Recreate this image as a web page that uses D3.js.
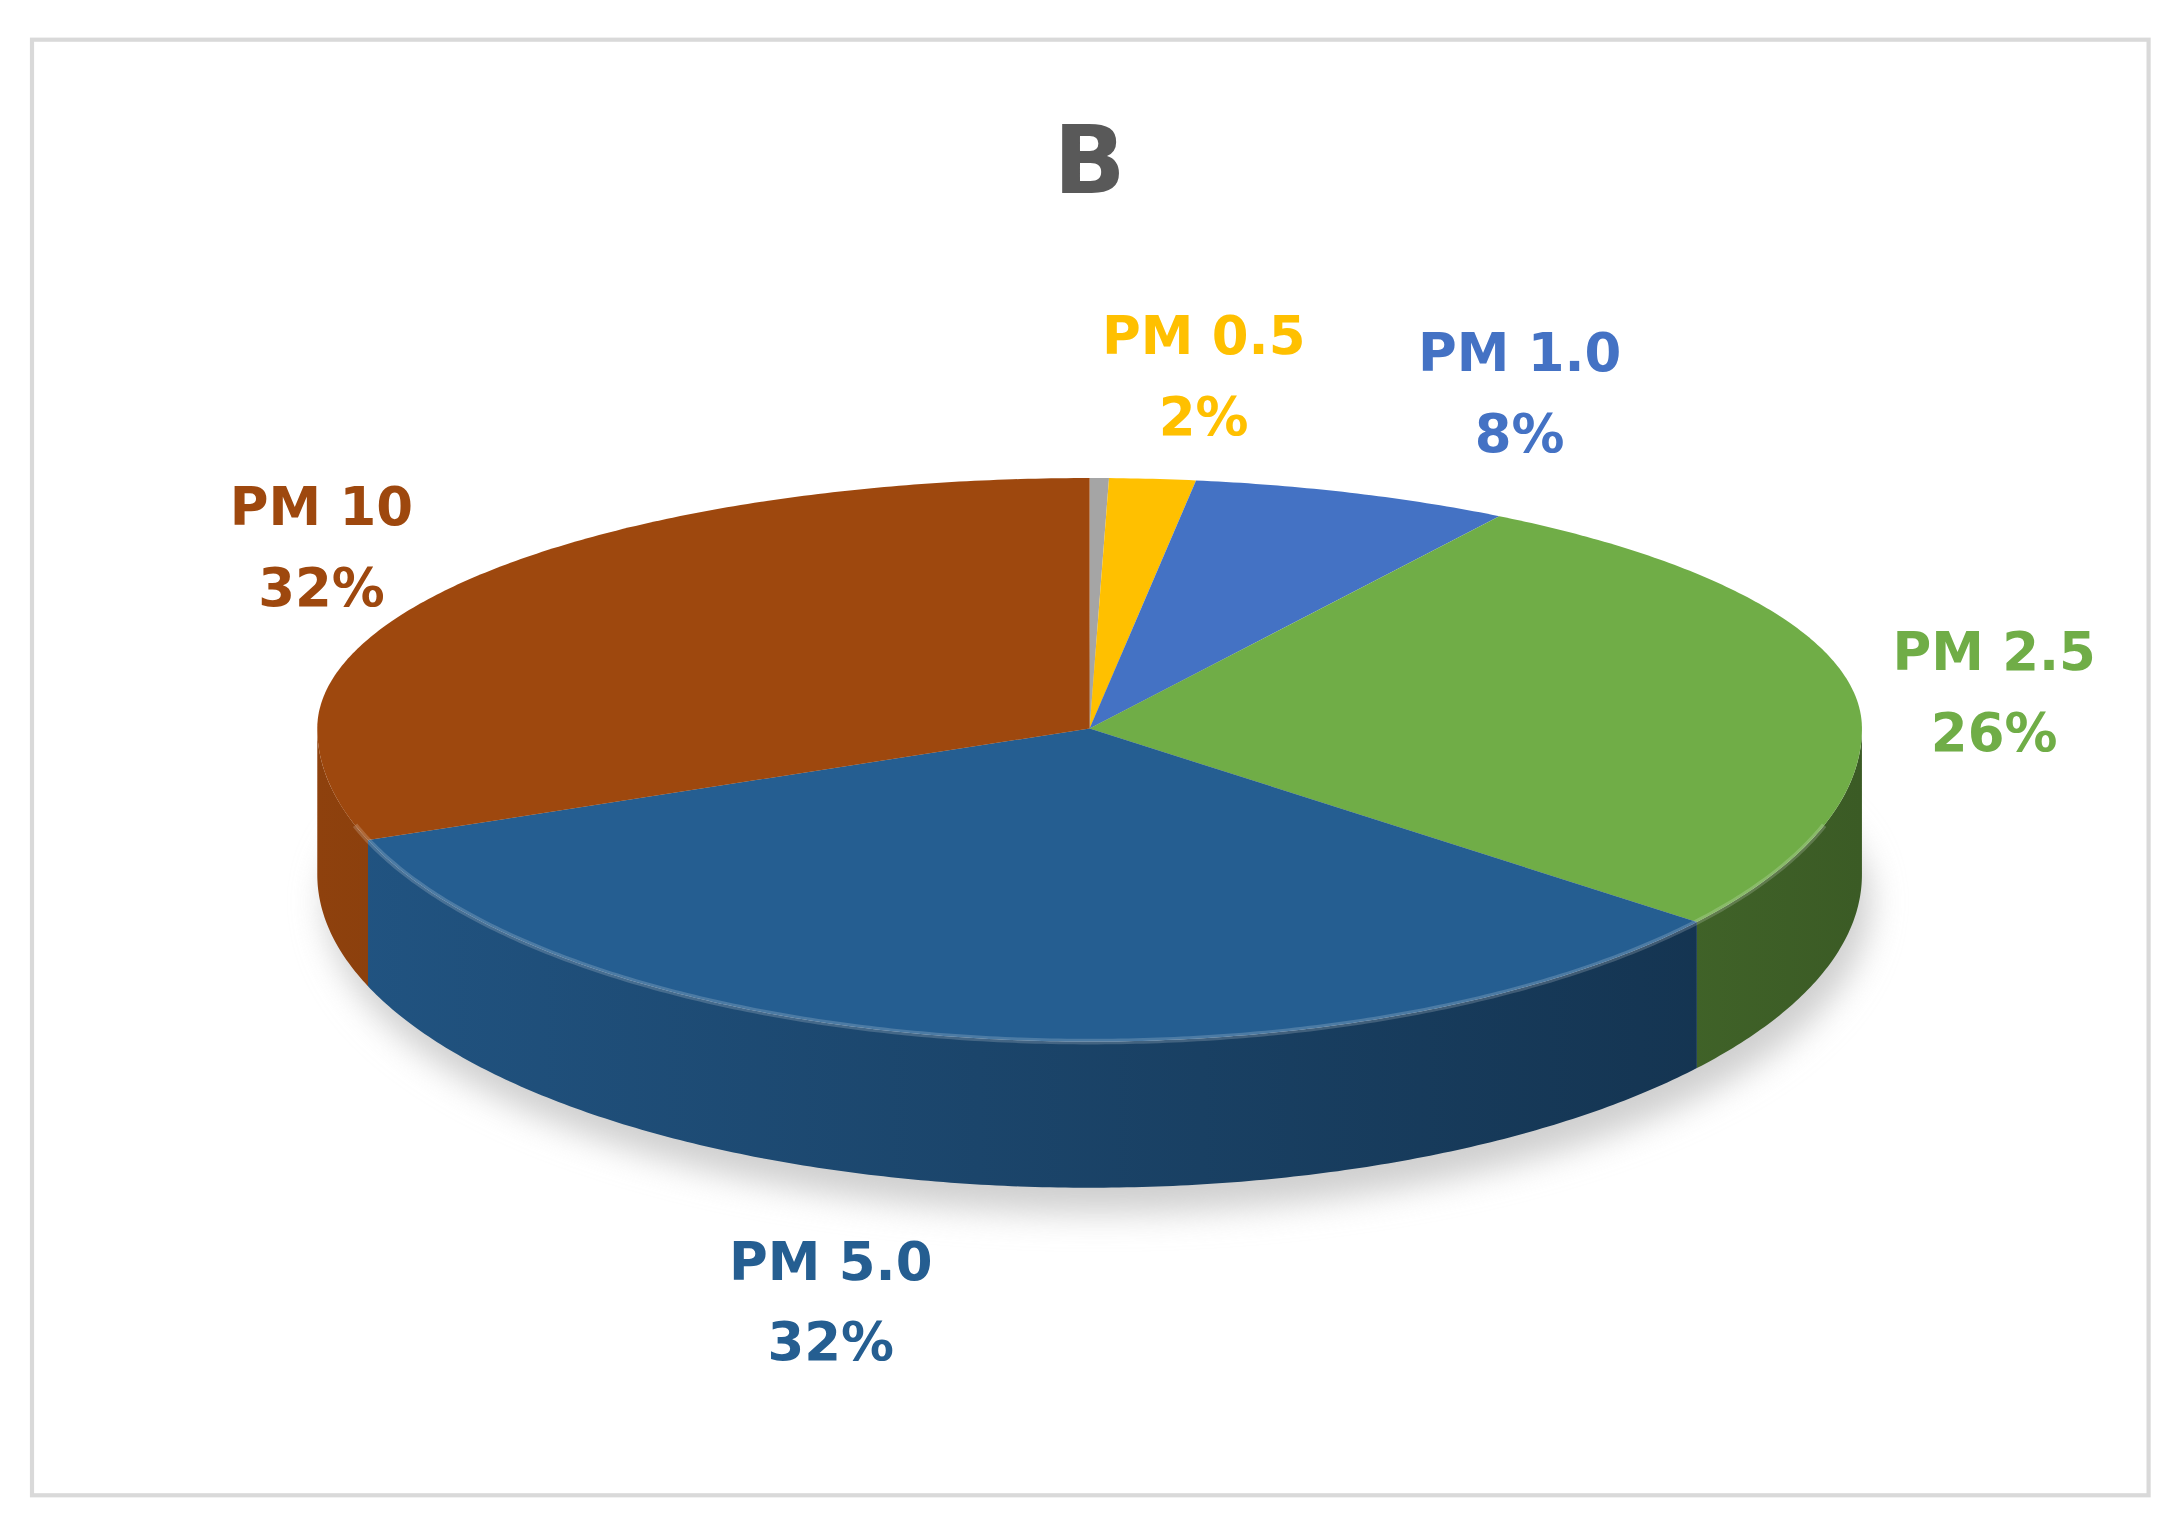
<!DOCTYPE html>
<html lang="en">
<head>
<meta charset="UTF-8" />
<title>3D Pie B</title>
<script src="https://d3js.org/d3.v7.min.js"></script>
<style>body{margin:0;background:#fff;}</style>
</head>
<body>
<svg id="chart"></svg>
<script>
    // data, clockwise from 12 o'clock
    var categories = ["Other", "PM 0.5", "PM 1.0", "PM 2.5", "PM 5.0", "PM 10"];
    var values = [0.4, 1.8, 6.7, 26.7, 33.6, 30.8];
    var labels = ["", "2%", "8%", "26%", "32%", "32%"];
    var colors = ["#A5A5A5", "#FFC000", "#4472C4", "#70AD47", "#255E91", "#9E480E"];

    var W = 1568, H = 1097;
    var svg = d3.select("#chart")
        .attr("width", 2182).attr("height", 1528)
        .attr("viewBox", `0 0 ${W} ${H}`);

    svg.append("rect").attr("x", 0).attr("y", 0).attr("width", W).attr("height", H).attr("fill", "#fff");
    svg.append("rect").attr("x", 23).attr("y", 28).attr("width", 1521).attr("height", 1046)
        .attr("fill", "none").attr("stroke", "#d9d9d9").attr("stroke-width", 3);

    svg.append("text").attr("x", 783).attr("y", 138).attr("text-anchor", "middle")
        .attr("font-family", "DejaVu Sans, sans-serif").attr("font-weight", 700)
        .attr("font-size", 68).attr("fill", "#595959").text("B");

    var cx = 783, cy = 523, rx = 555, ryTop = 180, ryBot = 225, depth = 105;
    var defs = svg.append("defs");
    defs.append("filter").attr("id", "blur").append("feGaussianBlur").attr("stdDeviation", 12);

    var pie = d3.pie().sort(null).startAngle(0).endAngle(2 * Math.PI);
    var arcs = pie(values);
    var px = t => cx + rx * Math.sin(t);
    var py = t => { var c = Math.cos(t); return cy - (c > 0 ? ryTop : ryBot) * c; };
    var line = d3.line();

    function arcPts(a0, a1) {
        var n = Math.max(2, Math.ceil((a1 - a0) / 0.01));
        return d3.range(n + 1).map(i => { var t = a0 + (a1 - a0) * i / n; return [px(t), py(t)]; });
    }

    // shadow
    var shadow = arcPts(0, 2 * Math.PI).map(p => [p[0] + 6, p[1] + depth + 18]);
    svg.append("path").attr("d", line(shadow) + "Z").attr("fill", "#cfcfcf").attr("filter", "url(#blur)");

    // sides (front half only)
    arcs.forEach((d, i) => {
        var a0 = Math.max(d.startAngle, Math.PI / 2), a1 = Math.min(d.endAngle, 3 * Math.PI / 2);
        if (a1 <= a0) return;
        var c = d3.color(colors[i]);
        var g = defs.append("linearGradient").attr("id", "side" + i)
            .attr("gradientUnits", "userSpaceOnUse").attr("x1", cx - rx).attr("x2", cx + rx);
        g.append("stop").attr("offset", 0).attr("stop-color", c.darker(0.3));
        g.append("stop").attr("offset", 1).attr("stop-color", c.darker(1.8));
        var top = arcPts(a0, a1);
        var bot = top.map(p => [p[0], p[1] + depth]).reverse();
        svg.append("path").attr("d", line(top.concat(bot)) + "Z").attr("fill", `url(#side${i})`);
    });

    // tops
    arcs.forEach((d, i) => {
        var pts = [[cx, cy]].concat(arcPts(d.startAngle, d.endAngle));
        svg.append("path").attr("d", line(pts) + "Z").attr("fill", colors[i]);
    });
    // soft rim highlight on the front edge
    svg.append("path").attr("d", line(arcPts(Math.PI * 0.6, Math.PI * 1.4)))
        .attr("fill", "none").attr("stroke", "#ffffff").attr("stroke-opacity", 0.18).attr("stroke-width", 4);

    // labels
    var pos = [null, [865, 240], [1092, 252], [1433, 467], [597, 905], [231, 363]];
    arcs.forEach((d, i) => {
        if (!pos[i]) return;
        var t = svg.append("text").attr("text-anchor", "middle")
            .attr("font-family", "DejaVu Sans, sans-serif").attr("font-weight", 700)
            .attr("font-size", 38).attr("fill", colors[i]);
        t.append("tspan").attr("x", pos[i][0]).attr("y", pos[i][1] + 14).text(categories[i]);
        t.append("tspan").attr("x", pos[i][0]).attr("y", pos[i][1] + 72).text(labels[i]);
    });
</script>
</body>
</html>
